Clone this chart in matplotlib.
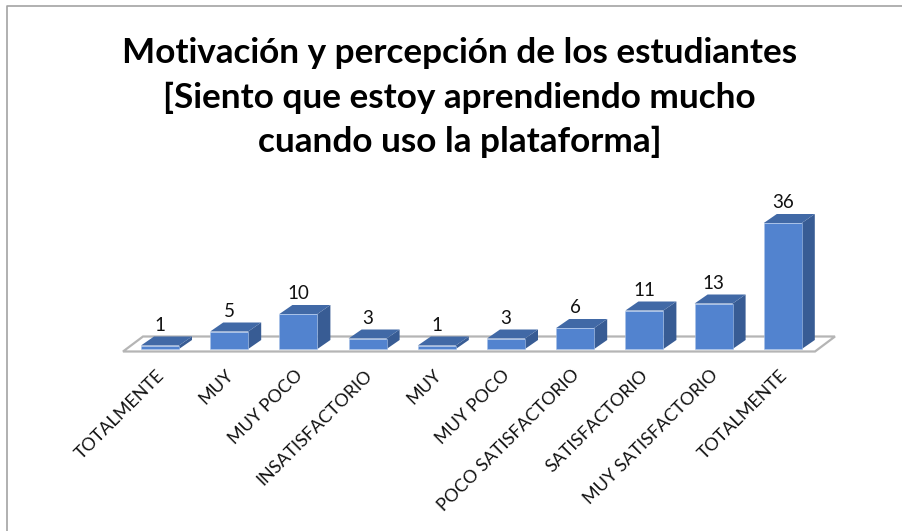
import matplotlib
matplotlib.use('Agg')
import matplotlib.pyplot as plt
from matplotlib.patches import Polygon
from matplotlib.lines import Line2D
from matplotlib.transforms import ScaledTranslation

W, H = 902, 531

categories = ['TOTALMENTE', 'MUY', 'MUY POCO', 'INSATISFACTORIO', 'MUY', 'MUY POCO',
              'POCO SATISFACTORIO', 'SATISFACTORIO', 'MUY SATISFACTORIO', 'TOTALMENTE']
values = [1, 5, 10, 3, 1, 3, 6, 11, 13, 36]
title = 'Motivación y percepción de los estudiantes\n[Siento que estoy aprendiendo mucho\ncuando uso la plataforma]'

plt.rcParams['font.family'] = ['Lato', 'DejaVu Sans']

FRONT = '#5283CF'
TOP = '#4169A6'
SIDE = '#385C94'
FLOOR = '#B5B5B5'

# pixel scales of the fake 3d box
px_x = 69.2
px_y = 3.5
bar_w = 38 / px_x
dx = 13 / px_x
dy = 9 / px_y

fig = plt.figure(figsize=(W / 100, H / 100), dpi=100)
fig.patch.set_facecolor('white')

# picture frame, only top and left show
fig.add_artist(Line2D([7.5 / W, 7.5 / W, 1], [0, 1 - 5.5 / H, 1 - 5.5 / H],
                      color='#A3A3A3', lw=1.2, transform=fig.transFigure))

ax = fig.add_axes([123 / W, (H - 351.5) / H, (835 - 123) / W, (351.5 - 6) / H])
ax.set_xlim((123 - 160) / px_x, (835 - 160) / px_x)
ax.set_ylim(-2.5 / px_y, (349 - 6) / px_y)
ax.patch.set_alpha(0)
for s in ax.spines.values():
    s.set_visible(False)
ax.set_yticks([])

x0, x1 = ax.get_xlim()
y0 = ax.get_ylim()[0]
ax.add_patch(Polygon([(x0, y0), (x1 - 20 / px_x, y0), (x1, y0 + 15 / px_y), (x0 + 20 / px_x, y0 + 15 / px_y)],
                     closed=True, facecolor='white', edgecolor=FLOOR, lw=1.6, clip_on=False, zorder=1))

xs = list(range(len(values)))
ax.bar(xs, values, width=bar_w, color=FRONT, edgecolor='#A9C3E8', lw=0.4, zorder=3)
for x, v in zip(xs, values):
    l = x - bar_w / 2
    r = x + bar_w / 2
    ax.add_patch(Polygon([(r, 0), (r + dx, dy), (r + dx, v + dy), (r, v)], closed=True,
                         facecolor=SIDE, edgecolor='none', zorder=2))
    ax.add_patch(Polygon([(l, v), (r, v), (r + dx, v + dy), (l + dx, v + dy)], closed=True,
                         facecolor=TOP, edgecolor='none', zorder=2))
    ax.annotate(str(v), (x, v + dy), xytext=(0, 2), textcoords='offset points',
                ha='center', va='bottom', fontsize=13.5, color='#111111', zorder=4)

ax.set_xticks(xs)
ax.set_xticklabels(categories, rotation=45, ha='right', rotation_mode='anchor', fontsize=12.9, color='#111111')
ax.tick_params(axis='x', length=0, pad=11)
# labels sit a little left of the bar centre
shift = ScaledTranslation(-4 / 100, 0, fig.dpi_scale_trans)
for lab in ax.get_xticklabels():
    lab.set_transform(lab.get_transform() + shift)

fig.text(459.5 / W, 1 - 97.5 / H, title, ha='center', va='center', fontsize=25.3, fontweight='bold',
         color='black', linespacing=1.45)

fig.savefig('out.png', dpi=100)
